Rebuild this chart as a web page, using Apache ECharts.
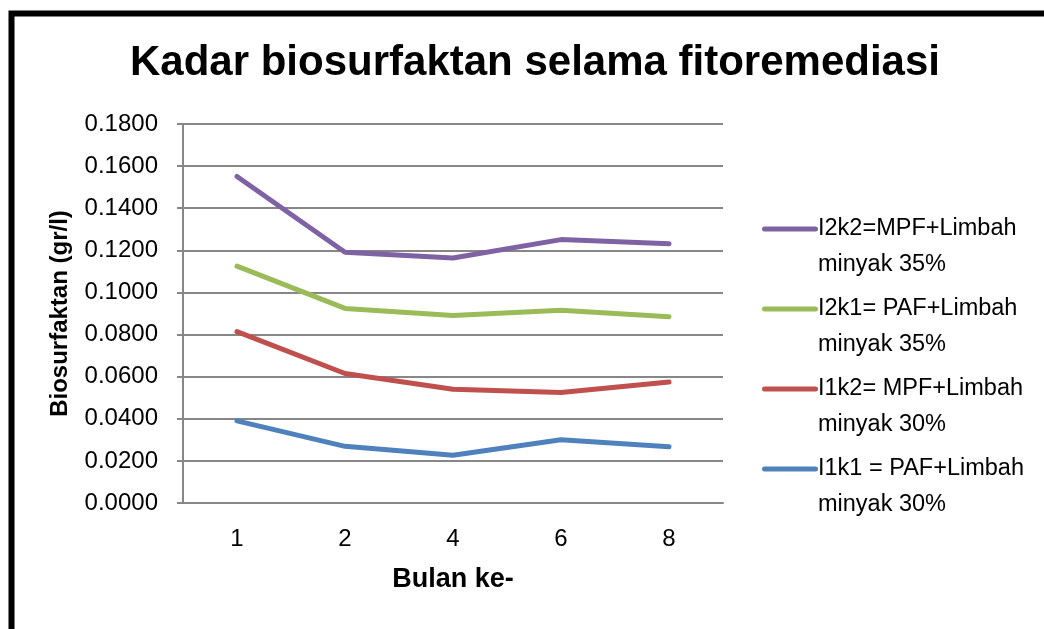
<!DOCTYPE html>
<html>
<head>
<meta charset="utf-8">
<script src="https://cdn.jsdelivr.net/npm/echarts@6/dist/echarts.min.js"></script>
<style>
html,body{margin:0;padding:0;background:#fff;}
#chart{width:1044px;height:629px;}
</style>
</head>
<body>
<div id="chart"></div>
<script>
var categories = ['1', '2', '4', '6', '8'];
var seriesNames = [
  'I1k1 = PAF+Limbah\nminyak 30%',
  'I1k2= MPF+Limbah\nminyak 30%',
  'I2k1= PAF+Limbah\nminyak 35%',
  'I2k2=MPF+Limbah\nminyak 35%'
];
var i1k1 = [0.0390, 0.0269, 0.0227, 0.0300, 0.0267];
var i1k2 = [0.0814, 0.0615, 0.0540, 0.0525, 0.0575];
var i2k1 = [0.1125, 0.0924, 0.0891, 0.0915, 0.0885];
var i2k2 = [0.1551, 0.1191, 0.1164, 0.1251, 0.1231];
var colors = ['#4F81BD', '#C0504D', '#9BBB59', '#7F62A3'];
var legendOrder = [3, 2, 1, 0];

var seriesData = [i1k1, i1k2, i2k1, i2k2];
var chart = echarts.init(document.getElementById('chart'));
var iconPath = 'path://M0,0 L0.01,0 M2.5,15.5 L53.5,15.5 A2.5,2.5 0 0 1 53.5,20.5 L2.5,20.5 A2.5,2.5 0 0 1 2.5,15.5 Z M0,72 L0.01,72';

var option = {
  backgroundColor: '#ffffff',
  animation: false,
  title: {
    text: 'Kadar biosurfaktan selama fitoremediasi',
    left: 130,
    top: 42,
    padding: 0,
    textStyle: {
      fontFamily: "'Liberation Sans', Arial, sans-serif",
      fontWeight: 'bold',
      fontSize: 42,
      color: '#000'
    }
  },
  legend: {
    orient: 'vertical',
    left: 762,
    top: 211,
    padding: 0,
    itemGap: 8,
    itemWidth: 56,
    itemHeight: 72,
    icon: iconPath,
    itemStyle: { borderWidth: 0 },
    textStyle: {
      fontFamily: "'Liberation Sans', Arial, sans-serif",
      fontSize: 23.5,
      lineHeight: 36,
      color: '#000',
      padding: [0, 0, 0, -5]
    },
    data: legendOrder.map(function (i) {
      return { name: seriesNames[i], itemStyle: { color: colors[i] } };
    })
  },
  graphic: [{
    type: 'rect',
    silent: true,
    shape: { x: 11.5, y: 13.5, width: 1200, height: 800 },
    style: { fill: 'none', stroke: '#000', lineWidth: 6 }
  }],
  grid: { left: 183, right: 321, top: 124, bottom: 126 },
  xAxis: {
    type: 'category',
    data: categories,
    boundaryGap: true,
    name: 'Bulan ke-',
    nameLocation: 'middle',
    nameGap: 63,
    nameTextStyle: {
      fontFamily: "'Liberation Sans', Arial, sans-serif",
      fontWeight: 'bold',
      fontSize: 27,
      color: '#000'
    },
    axisLine: { lineStyle: { color: '#878787', width: 2 } },
    axisTick: { show: false },
    axisLabel: {
      margin: 24,
      fontFamily: "'Liberation Sans', Arial, sans-serif",
      fontSize: 24,
      color: '#000'
    }
  },
  yAxis: {
    type: 'value',
    min: 0,
    max: 0.18,
    interval: 0.02,
    name: 'Biosurfaktan (gr/l)',
    nameLocation: 'middle',
    nameGap: 111,
    nameTextStyle: {
      fontFamily: "'Liberation Sans', Arial, sans-serif",
      fontWeight: 'bold',
      fontSize: 24,
      color: '#000'
    },
    axisLine: { show: true, lineStyle: { color: '#878787', width: 2 } },
    axisTick: { show: true, length: 6, lineStyle: { color: '#878787', width: 2 } },
    splitLine: { show: true, lineStyle: { color: '#878787', width: 2 } },
    axisLabel: {
      margin: 25,
      fontFamily: "'Liberation Sans', Arial, sans-serif",
      fontSize: 24,
      color: '#000',
      formatter: function (v) { return v.toFixed(4); }
    }
  },
  series: seriesData.map(function (d, i) {
    return {
      name: seriesNames[i],
      type: 'line',
      data: d,
      symbol: 'none',
      showSymbol: false,
      itemStyle: { color: colors[i] },
      lineStyle: { color: colors[i], width: 5, cap: 'round', join: 'round' }
    };
  })
};
chart.setOption(option);
</script>
</body>
</html>
